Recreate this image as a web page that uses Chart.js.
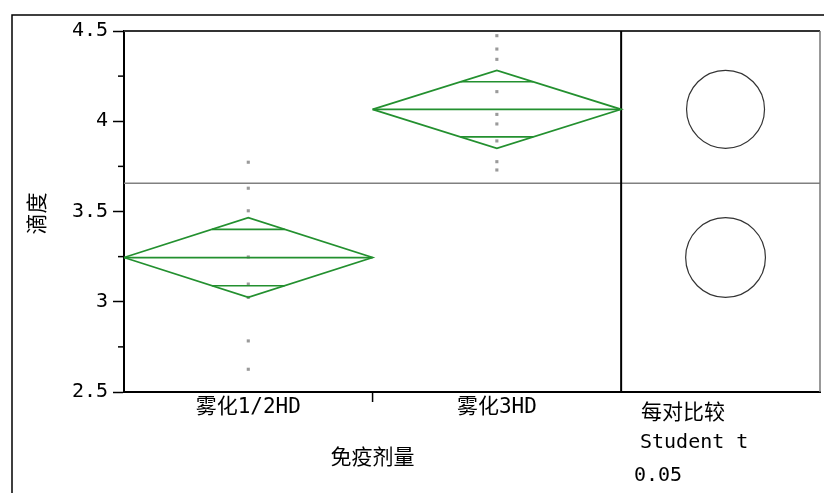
<!DOCTYPE html>
<html><head><meta charset="utf-8">
<script src="https://cdn.jsdelivr.net/npm/chart.js@4"></script>
<style>html,body{margin:0;padding:0;background:#fff;} #c{display:block;}</style>
</head><body>
<canvas id="c" width="824" height="493"></canvas>
<script>
// ---- data ----
const categories = ['雾化1/2HD', '雾化3HD'];
const groupMeans = [3.245, 4.066];
const ciHalfWidths = [0.221, 0.216];
const grandMean = 3.656;
const pointsGroup1 = [3.773, 3.629, 3.504, 3.248, 3.098, 3.024, 2.783, 2.626];
const pointsGroup2 = [4.474, 4.400, 4.343, 4.164, 4.038, 3.985, 3.891, 3.776, 3.730];
const yTickValues = [2.5, 3, 3.5, 4, 4.5];
const yMinorTickValues = [2.75, 3.25, 3.75, 4.25];
const xAxisTitle = '免疫剂量';
const yAxisTitle = '滴度';
const comparisonLabels = ['每对比较', 'Student t', '0.05'];

// ---- styles ----
const GREEN = '#23902f';
const MONO = "'DejaVu Sans Mono', 'Noto Sans CJK SC', monospace";
const CJK = "'Noto Sans CJK SC', 'DejaVu Sans Mono', sans-serif";
const PANEL_WIDTH = 0.8; // comparison-circle panel width in x units

const groupPoints = [pointsGroup1, pointsGroup2];
const datasets = [];
groupPoints.forEach((pts, g) => {
  datasets.push({
    data: pts.map(v => ({x: g + 0.5, y: v})),
    showLine: false, pointStyle: 'rect', pointRadius: 2.2,
    backgroundColor: '#9a9a9a', borderWidth: 0, order: 2
  });
});
const lineDs = (data) => ({
  data, showLine: true, borderColor: GREEN, borderWidth: 1.7,
  pointRadius: 0, fill: false, tension: 0, clip: false, order: 1
});
groupMeans.forEach((m, g) => {
  const h = ciHalfWidths[g];
  datasets.push(lineDs([
    {x: g, y: m}, {x: g + 0.5, y: m + h}, {x: g + 1, y: m},
    {x: g + 0.5, y: m - h}, {x: g, y: m}
  ]));
  datasets.push(lineDs([{x: g, y: m}, {x: g + 1, y: m}]));
  const o = h / Math.SQRT2;
  const hw = 0.5 * (1 - Math.SQRT1_2);
  datasets.push(lineDs([{x: g + 0.5 - hw, y: m + o}, {x: g + 0.5 + hw, y: m + o}]));
  datasets.push(lineDs([{x: g + 0.5 - hw, y: m - o}, {x: g + 0.5 + hw, y: m - o}]));
});

const decor = {
  id: 'decor',
  beforeDraw(chart) {
    const {ctx, width, height} = chart;
    ctx.save();
    ctx.fillStyle = '#fff';
    ctx.fillRect(0, 0, width, height);
    ctx.strokeStyle = '#000';
    ctx.lineWidth = 1.5;
    ctx.beginPath();
    ctx.moveTo(12, height); ctx.lineTo(12, 15); ctx.lineTo(width, 15);
    ctx.stroke();
    ctx.restore();
  },
  beforeDatasetsDraw(chart) {
    const {ctx, chartArea: a, scales: {x, y}} = chart;
    ctx.save();
    const gy = y.getPixelForValue(grandMean);
    ctx.strokeStyle = '#808080'; ctx.lineWidth = 1.5;
    ctx.beginPath(); ctx.moveTo(a.left, gy); ctx.lineTo(a.right, gy); ctx.stroke();
    ctx.strokeStyle = '#333'; ctx.lineWidth = 2;
    ctx.beginPath(); ctx.moveTo(a.left, a.top); ctx.lineTo(a.right, a.top); ctx.stroke();
    ctx.strokeStyle = '#777'; ctx.lineWidth = 1.5;
    ctx.beginPath(); ctx.moveTo(a.right, a.top); ctx.lineTo(a.right, a.bottom); ctx.stroke();
    const dx = x.getPixelForValue(categories.length);
    ctx.strokeStyle = '#000'; ctx.lineWidth = 2;
    ctx.beginPath(); ctx.moveTo(dx, a.top); ctx.lineTo(dx, a.bottom); ctx.stroke();
    ctx.restore();
  },
  afterDraw(chart) {
    const {ctx, chartArea: a, scales: {x, y}} = chart;
    ctx.save();
    ctx.strokeStyle = '#000'; ctx.lineWidth = 1.5;
    yMinorTickValues.forEach(v => {
      const py = y.getPixelForValue(v);
      ctx.beginPath(); ctx.moveTo(a.left - 6, py); ctx.lineTo(a.left, py); ctx.stroke();
    });
    for (let i = 1; i < categories.length; i++) {
      const px = x.getPixelForValue(i);
      ctx.beginPath(); ctx.moveTo(px, a.bottom); ctx.lineTo(px, a.bottom + 10); ctx.stroke();
    }
    const cx = x.getPixelForValue(categories.length + PANEL_WIDTH / 2 + 0.02);
    ctx.strokeStyle = '#333'; ctx.lineWidth = 1.2;
    groupMeans.forEach((m, g) => {
      const cy = y.getPixelForValue(m);
      const r = Math.abs(y.getPixelForValue(m + ciHalfWidths[g]) - cy);
      ctx.beginPath(); ctx.arc(cx, cy, r, 0, Math.PI * 2); ctx.stroke();
    });
    ctx.fillStyle = '#000';
    ctx.textBaseline = 'middle';
    ctx.textAlign = 'center';
    ctx.font = '21px ' + CJK;
    ctx.fillText(xAxisTitle, x.getPixelForValue(categories.length / 2), 456);
    ctx.save();
    ctx.translate(36.5, (a.top + a.bottom) / 2 + 2);
    ctx.rotate(-Math.PI / 2);
    ctx.fillText(yAxisTitle, 0, 0);
    ctx.restore();
    ctx.textAlign = 'left';
    ctx.font = '21px ' + CJK;
    ctx.fillText(comparisonLabels[0], 641, 411);
    ctx.font = '20px ' + MONO;
    ctx.fillText(comparisonLabels[1], 640, 443);
    ctx.fillText(comparisonLabels[2], 634, 476);
    ctx.restore();
  }
};

new Chart(document.getElementById('c'), {
  type: 'scatter',
  data: {datasets},
  options: {
    responsive: false,
    animation: false,
    events: [],
    layout: {padding: {left: 0, top: 31, right: 1, bottom: 0}},
    plugins: {legend: {display: false}, tooltip: {enabled: false}},
    scales: {
      x: {
        type: 'linear', min: 0, max: categories.length + PANEL_WIDTH,
        afterBuildTicks: s => { s.ticks = categories.map((c, i) => ({value: i + 0.5})); },
        afterFit: s => { s.height = 101; },
        grid: {drawOnChartArea: false, drawTicks: false},
        border: {color: '#000', width: 2},
        ticks: {
          padding: 3, maxRotation: 0, autoSkip: false,
          color: '#000', font: {family: MONO, size: 21},
          callback: v => categories[Math.round(v - 0.5)] || ''
        }
      },
      y: {
        type: 'linear', min: 2.5, max: 4.5,
        afterBuildTicks: s => { s.ticks = yTickValues.map(v => ({value: v})); },
        afterFit: s => { s.width = 124; },
        grid: {drawOnChartArea: false, drawTicks: true, tickLength: 11, tickColor: '#000', tickWidth: 1.5},
        border: {color: '#000', width: 2},
        ticks: {
          padding: 5, color: '#000', font: {family: MONO, size: 20},
          callback: v => String(v)
        }
      }
    }
  },
  plugins: [decor]
});
</script>
</body></html>
